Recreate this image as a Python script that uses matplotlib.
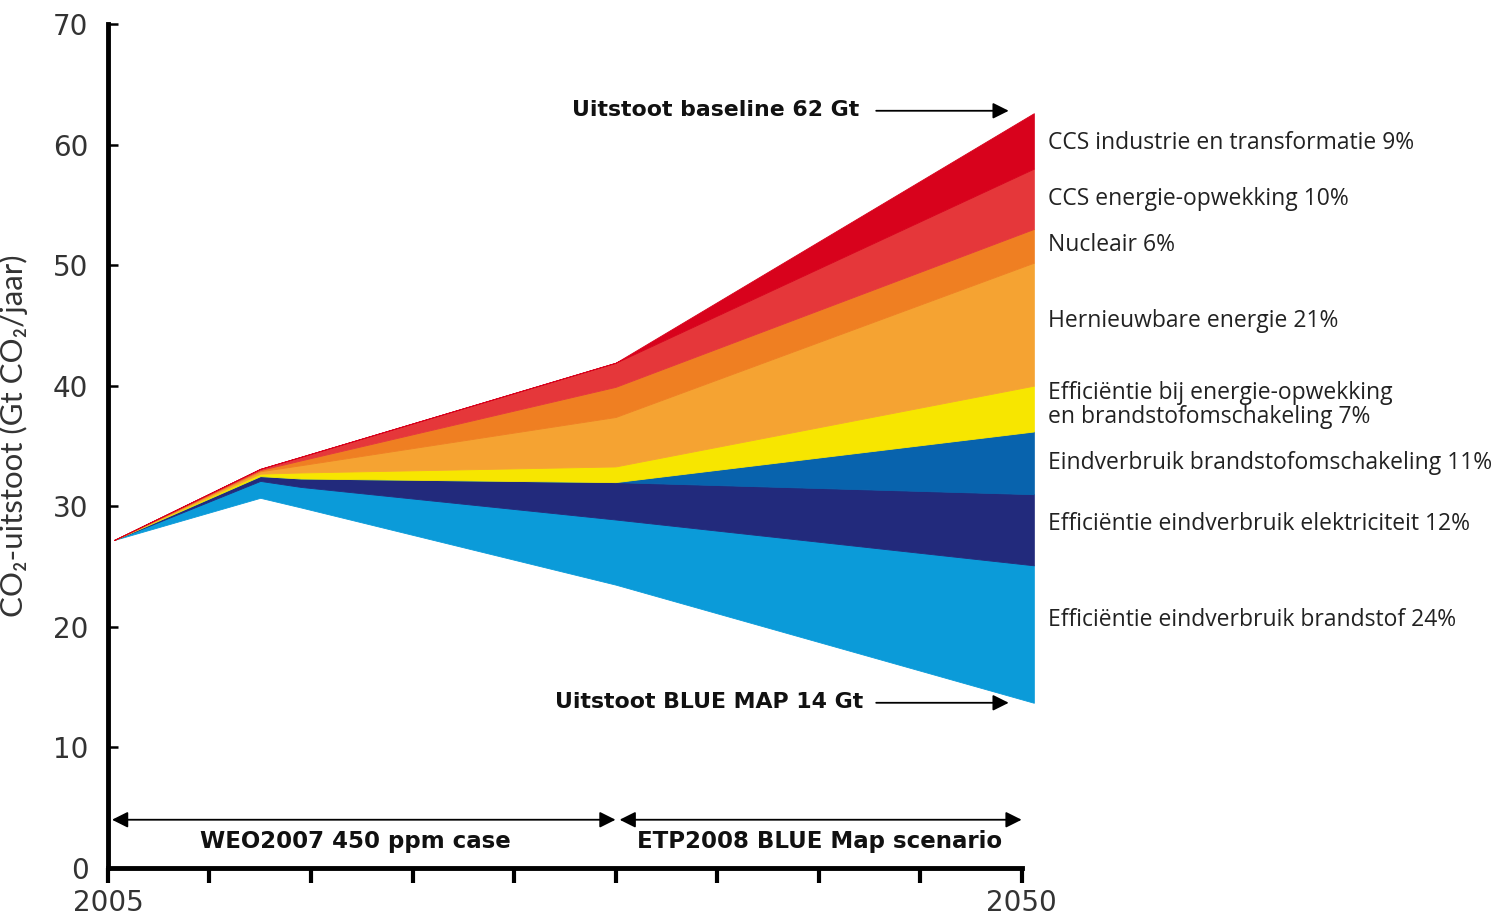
import matplotlib.pyplot as plt
import numpy as np

plt.rcParams['font.family'] = ['Lato', 'DejaVu Sans']

# years at which the wedge outlines bend
years = np.array([2005.3, 2012.5, 2014.5, 2030, 2050.6])
# remaining emission in the BLUE Map scenario (bottom of the stack)
blue_map = np.array([27.2, 30.7, 29.9, 23.5, 13.7])

# reduction wedges, bottom to top (Gt CO2/jaar)
eff_brandstof = [0, 1.4, 1.7, 5.4, 11.4]
eff_elektriciteit = [0, 0.4, 0.7, 3.1, 5.9]
brandstofomschakeling = [0, 0, 0, 0, 5.2]
eff_opwekking = [0, 0.2, 0.5, 1.3, 3.8]
hernieuwbaar = [0, 0.2, 0.6, 4.1, 10.2]
nucleair = [0, 0.1, 0.4, 2.5, 2.8]
ccs_energie = [0, 0.1, 0.3, 2.0, 5.0]
ccs_industrie = [0, 0, 0, 0, 4.6]

wedges = [eff_brandstof, eff_elektriciteit, brandstofomschakeling, eff_opwekking,
          hernieuwbaar, nucleair, ccs_energie, ccs_industrie]
colors = ['#0b9bd9', '#222a7c', '#0863ad', '#f7e600',
          '#f5a332', '#ef7f22', '#e5373a', '#d8021c']
labels = ['Efficiëntie eindverbruik brandstof 24%',
          'Efficiëntie eindverbruik elektriciteit 12%',
          'Eindverbruik brandstofomschakeling 11%',
          'Efficiëntie bij energie-opwekking\nen brandstofomschakeling 7%',
          'Hernieuwbare energie 21%',
          'Nucleair 6%',
          'CCS energie-opwekking 10%',
          'CCS industrie en transformatie 9%']
label_y = [20.6, 28.5, 33.6, 38.4, 45.4, 51.7, 55.5, 60.1]

fig = plt.figure(figsize=(14.99, 9.18), dpi=100)
ax = fig.add_axes([0.072, 0.0545, 0.6231, 0.9194])

lower = blue_map.copy()
for w, c in zip(wedges, colors):
    upper = lower + np.array(w)
    ax.fill_between(years, lower, upper, color=c, lw=0.6, edgecolor=c)
    lower = upper

for lab, yy in zip(labels, label_y):
    ax.text(2051.3, yy, lab, fontsize=16.5, color='#222222', va='center', ha='left',
            family=['Open Sans', 'DejaVu Sans'], linespacing=1.05)

bold = dict(fontsize=15.8, fontweight='bold', color='#111111', family='DejaVu Sans')
arrow = dict(arrowstyle='-|>', color='black', lw=1.3, mutation_scale=24)
both = dict(arrowstyle='<|-|>', color='black', lw=1.3, mutation_scale=24,
            shrinkA=0, shrinkB=0)

# baseline / BLUE Map arrows
ax.text(2042.0, 62.9, 'Uitstoot baseline 62 Gt', ha='right', va='center', **bold)
ax.annotate('', xy=(2049.5, 62.8), xytext=(2042.7, 62.8), arrowprops=arrow)
ax.text(2042.2, 13.8, 'Uitstoot BLUE MAP 14 Gt', ha='right', va='center', **bold)
ax.annotate('', xy=(2049.5, 13.7), xytext=(2042.7, 13.7), arrowprops=arrow)

# scenario ranges
ax.annotate('', xy=(2005.2, 4.0), xytext=(2030.0, 4.0), arrowprops=both)
ax.annotate('', xy=(2030.2, 4.0), xytext=(2050.0, 4.0), arrowprops=both)
ax.text(2017.2, 2.2, 'WEO2007 450 ppm case', ha='center', va='center',
        **dict(bold, fontsize=16.5))
ax.text(2040.05, 2.2, 'ETP2008 BLUE Map scenario', ha='center', va='center',
        **dict(bold, fontsize=16.5))

ax.set_xlim(2005, 2051)
ax.set_ylim(0, 70)
for s in ['top', 'right']:
    ax.spines[s].set_visible(False)
for s in ['left', 'bottom']:
    ax.spines[s].set_linewidth(3.5)
ax.spines['bottom'].set_bounds(2005, 2050)

ax.set_xticks(np.arange(2005, 2051, 5))
ax.set_xticklabels(['2005'] + [''] * 8 + ['2050'])
ax.tick_params(axis='x', direction='out', length=11, width=3, pad=4,
               labelsize=20, labelcolor='#333333')
ax.set_yticks(np.arange(0, 71, 10))
ax.tick_params(axis='y', direction='in', length=7, width=1.8, pad=14,
               labelsize=20, labelcolor='#333333')
for t in ax.get_xticklabels() + ax.get_yticklabels():
    t.set_family('DejaVu Sans')
ax.set_ylabel('CO₂-uitstoot (Gt CO₂/jaar)', fontsize=22.5, color='#333333')
ax.yaxis.set_label_coords(-0.086, 0.512)

plt.savefig('out.png', dpi=100)
